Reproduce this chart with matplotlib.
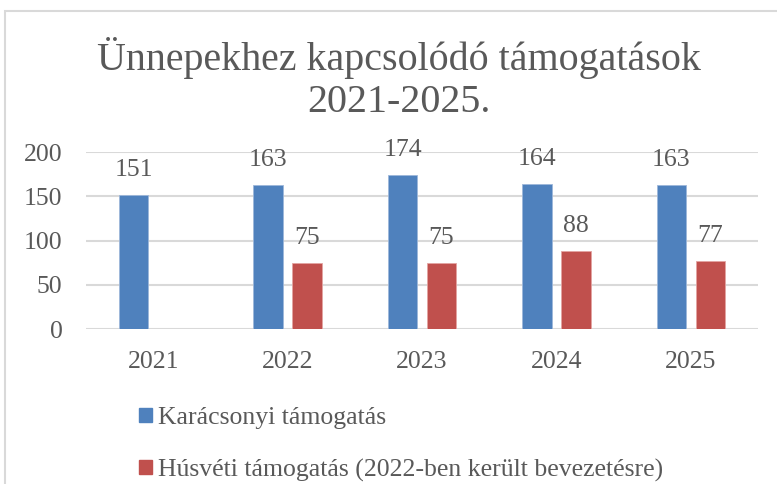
import numpy as np
import matplotlib.pyplot as plt
from matplotlib.patches import Rectangle

# Data
years = ['2021', '2022', '2023', '2024', '2025']
christmas = [151, 163, 174, 164, 163]
easter = [np.nan, 75, 75, 88, 77]
series_names = ['Karácsonyi támogatás', 'Húsvéti támogatás (2022-ben került bevezetésre)']
title = 'Ünnepekhez kapcsolódó támogatások\n2021-2025.'

blue = '#4F81BD'
red = '#C0504D'
txt = '#595959'
grid = '#D9D9D9'

plt.rcParams['font.family'] = ['Liberation Serif', 'DejaVu Serif']

fig = plt.figure(figsize=(7.77, 4.84), dpi=100)
ax = fig.add_axes([86 / 777, 1 - 329 / 484, 672 / 777, 177 / 484])

# outer chart border
fig.patches.append(Rectangle((5 / 777, -0.05), 1.1, 0.05 + 1 - 11 / 484,
                             transform=fig.transFigure, fill=False,
                             edgecolor=grid, linewidth=1.5))

x = np.arange(len(years))
w = 0.22
off = 0.145
b1 = ax.bar(x - off, christmas, w, color=blue, edgecolor='#9DB7DA', linewidth=0.6, zorder=3)
b2 = ax.bar(x + off, easter, w, color=red, edgecolor='#E3A4A2', linewidth=0.6, zorder=3)

for bars, vals in ((b1, christmas), (b2, easter)):
    for rect, v in zip(bars, vals):
        if np.isnan(v):
            continue
        ax.annotate(f'{v:.0f}', (rect.get_x() + rect.get_width() / 2, v),
                    xytext=(0, 10), textcoords='offset points',
                    ha='center', va='bottom', fontsize=18.5, color=txt)

ax.set_xlim(-0.5, len(years) - 0.5)
ax.set_ylim(0, 200)
ax.set_yticks([0, 50, 100, 150, 200])
ax.set_xticks(x)
ax.set_xticklabels(years)
ax.tick_params(axis='both', length=0, labelsize=18.5, labelcolor=txt)
ax.tick_params(axis='x', pad=16)
ax.tick_params(axis='y', pad=17)
ax.grid(axis='y', color=grid, linewidth=1.5, zorder=0)
for s in ax.spines.values():
    s.set_visible(False)

fig.text(399 / 777, 1 - 79 / 484, title, ha='center', va='center',
         fontsize=28.8, color=txt, linespacing=1.15)

# legend
handles = [Rectangle((0, 0), 1, 1, color=blue), Rectangle((0, 0), 1, 1, color=red)]
fig.legend(handles, series_names, loc='upper left', bbox_to_anchor=(116 / 777, 1 - 384 / 484),
           frameon=False, fontsize=18.5, labelcolor=txt, handlelength=0.5, handleheight=0.5,
           handletextpad=0.25, labelspacing=1.14)

fig.savefig('out.png', dpi=100, facecolor='white')
